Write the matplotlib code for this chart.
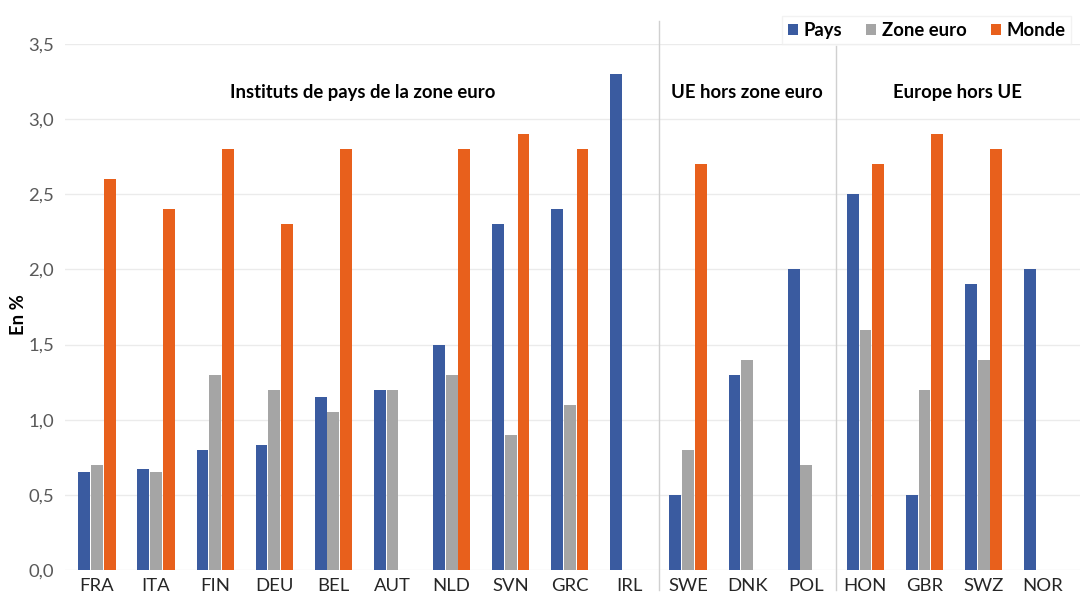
import numpy as np
import matplotlib
matplotlib.use('Agg')
import matplotlib.pyplot as plt

plt.rcParams['font.family'] = ['Lato', 'DejaVu Sans']

pays_codes = ['FRA', 'ITA', 'FIN', 'DEU', 'BEL', 'AUT', 'NLD', 'SVN', 'GRC', 'IRL',
              'SWE', 'DNK', 'POL', 'HON', 'GBR', 'SWZ', 'NOR']
nan = np.nan
pays = [0.65, 0.67, 0.80, 0.83, 1.15, 1.20, 1.50, 2.30, 2.40, 3.30,
        0.50, 1.30, 2.00, 2.50, 0.50, 1.90, 2.00]
zone_euro = [0.70, 0.65, 1.30, 1.20, 1.05, 1.20, 1.30, 0.90, 1.10, nan,
             0.80, 1.40, 0.70, 1.60, 1.20, 1.40, nan]
monde = [2.60, 2.40, 2.80, 2.30, 2.80, nan, 2.80, 2.90, 2.80, nan,
         2.70, nan, nan, 2.70, 2.90, 2.80, nan]
groupes = ['Instituts de pays de la zone euro', 'UE hors zone euro', 'Europe hors UE']

c_pays = '#3A5BA0'
c_ze = '#A5A5A5'
c_monde = '#E8601C'
fs = 13.3

fig = plt.figure(figsize=(10.85, 5.94), dpi=100)
ax = fig.add_axes([65/1085, 24/594, 1015/1085, 526/594])

x = np.arange(len(pays_codes))
w = 0.2
ax.bar(x - 0.215, pays, w, color=c_pays, label='Pays', zorder=3)
ax.bar(x, zone_euro, w, color=c_ze, label='Zone euro', zorder=3)
ax.bar(x + 0.215, monde, w, color=c_monde, label='Monde', zorder=3)

ax.set_xlim(-0.54, 16.63)
ax.set_ylim(0, 3.5)
ax.set_yticks(np.arange(0, 3.51, 0.5))
ax.set_yticklabels([f'{v:.1f}'.replace('.', ',') for v in np.arange(0, 3.51, 0.5)],
                   color='#595959', fontsize=fs)
ax.set_xticks(x)
ax.set_xticklabels(pays_codes, fontsize=fs, color='#262626')
ax.tick_params(length=0, pad=6)
ax.tick_params(axis='y', pad=8)
ax.grid(axis='y', color='#EBEBEB', linewidth=1, zorder=0)
for s in ax.spines.values():
    s.set_visible(False)
ax.set_ylabel('En %', fontsize=fs, fontweight='bold')
ax.yaxis.set_label_coords(-0.037, 0.485)

# separateurs
ax.plot([9.5, 9.5], [-0.13, 3.65], color='#D0D0D0', lw=1, clip_on=False)
ax.plot([12.5, 12.5], [-0.13, 3.49], color='#D0D0D0', lw=1, clip_on=False)

ax.text(4.5, 3.18, groupes[0], ha='center', va='center', fontsize=fs, fontweight='bold')
ax.text(11.0, 3.18, groupes[1], ha='center', va='center', fontsize=fs, fontweight='bold')
ax.text(14.55, 3.18, groupes[2], ha='center', va='center', fontsize=fs, fontweight='bold')

leg = ax.legend(loc='upper right', bbox_to_anchor=(1.0, 1.07), ncol=3, frameon=True,
                fontsize=fs, handlelength=0.55, handleheight=0.55, handletextpad=0.3,
                columnspacing=1.3, borderpad=0.3, fancybox=False)
leg.get_frame().set_edgecolor('#EFEFEF')
for t in leg.get_texts():
    t.set_fontweight('bold')

fig.savefig('out.png', dpi=100)
